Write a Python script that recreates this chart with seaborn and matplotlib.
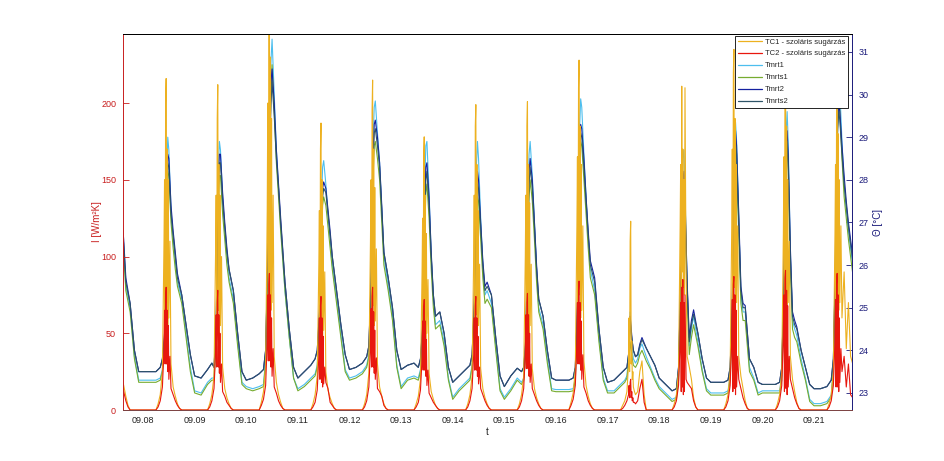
import numpy as np
import pandas as pd
import matplotlib
matplotlib.use('Agg')
import matplotlib.pyplot as plt
import matplotlib.dates as mdates
import seaborn as sns
from matplotlib.lines import Line2D

nan = np.nan

# one list per day, 2012-09-07 ... 2012-09-21
days = pd.date_range('2012-09-07', '2012-09-21', freq='D')

t_hours = [0, 3, 6, 8, 9, 10, 10.5, 11, 11.5, 12, 13, 14, 15, 16, 18, 20, 22]
tc_hours = [0, 6, 7, 8, 9, 9.75, 10, 10.25, 10.5, 10.75, 11, 11.25, 11.5,
            11.75, 12, 12.5, 13, 14, 15, 16, 17, 18]

tc1 = [
    [nan] * 16 + [28, 22, 16, 9, 3, 0],
    [0, 0, 4, 10, 25, 110, 150, 60, 200, 216, 70, 170, 55, 150, 60, 110, 30, 15, 9, 4, 1, 0],
    [0, 0, 4, 10, 22, 105, 140, 55, 190, 212, 65, 160, 50, 140, 55, 100, 28, 14, 8, 4, 1, 0],
    [0, 0, 5, 12, 28, 130, 200, 70, 250, 265, 80, 230, 65, 190, 70, 140, 35, 18, 10, 5, 1, 0],
    [0, 0, 4, 10, 22, 95, 130, 50, 170, 187, 60, 150, 48, 120, 52, 90, 25, 13, 8, 4, 1, 0],
    [0, 0, 4, 10, 24, 110, 150, 60, 195, 215, 68, 170, 55, 145, 58, 105, 30, 15, 9, 4, 1, 0],
    [0, 0, 4, 9, 20, 90, 125, 50, 165, 178, 58, 140, 45, 115, 50, 85, 24, 12, 7, 3, 1, 0],
    [0, 0, 4, 10, 22, 100, 140, 55, 185, 199, 62, 160, 50, 130, 55, 95, 27, 14, 8, 4, 1, 0],
    [0, 0, 4, 10, 22, 100, 140, 55, 185, 201, 62, 160, 50, 135, 55, 95, 27, 14, 8, 4, 1, 0],
    [0, 0, 5, 11, 26, 120, 165, 65, 210, 228, 75, 185, 60, 160, 65, 120, 32, 16, 9, 4, 1, 0],
    [0, 0, 3, 6, 12, 30, 60, 25, 110, 123, 30, 45, 20, 25, 15, 12, 10, 12, 25, 32, 10, 0],
    [0, 0, 4, 10, 25, 120, 160, 70, 211, 90, 170, 80, 150, 75, 210, 90, 35, 28, 20, 8, 2, 0],
    [0, 0, 4, 10, 25, 120, 170, 70, 220, 235, 80, 190, 65, 160, 70, 120, 35, 22, 14, 6, 1, 0],
    [0, 0, 4, 10, 25, 115, 165, 70, 215, 230, 75, 185, 65, 150, 70, 110, 35, 20, 12, 5, 1, 0],
    [0, 0, 4, 10, 25, 115, 160, 70, 200, 218, 75, 180, 65, 150, 70, 120, 60, 90, 40, 70, 35, 30],
]

tc2 = [
    [nan] * 16 + [22, 18, 12, 6, 2, 0],
    [0, 0, 2, 6, 15, 40, 65, 30, 72, 80, 30, 65, 25, 55, 20, 35, 14, 10, 6, 3, 1, 0],
    [0, 0, 2, 6, 14, 38, 62, 28, 70, 78, 28, 62, 24, 50, 18, 30, 12, 9, 5, 3, 1, 0],
    [0, 0, 3, 7, 16, 45, 75, 32, 82, 89, 32, 75, 28, 60, 22, 40, 15, 11, 6, 3, 1, 0],
    [0, 0, 2, 5, 13, 35, 60, 20, 68, 74, 18, 60, 15, 48, 17, 28, 18, 14, 5, 3, 1, 0],
    [0, 0, 2, 6, 15, 40, 66, 28, 74, 80, 28, 64, 24, 52, 20, 34, 14, 12, 9, 3, 1, 0],
    [0, 0, 2, 5, 13, 34, 58, 26, 66, 72, 26, 58, 22, 46, 16, 26, 11, 8, 5, 3, 1, 0],
    [0, 0, 2, 6, 14, 36, 60, 26, 68, 74, 26, 60, 22, 48, 17, 28, 14, 10, 6, 3, 1, 0],
    [0, 0, 2, 6, 14, 37, 62, 27, 70, 76, 27, 62, 22, 50, 18, 30, 14, 10, 6, 3, 1, 0],
    [0, 0, 3, 7, 16, 44, 70, 30, 78, 84, 30, 70, 26, 58, 20, 36, 15, 11, 6, 3, 1, 0],
    [0, 0, 1, 3, 6, 10, 16, 8, 18, 20, 8, 12, 6, 8, 5, 5, 4, 6, 14, 20, 5, 0],
    [0, 0, 2, 6, 16, 45, 70, 12, 80, 15, 85, 10, 70, 12, 75, 20, 18, 16, 14, 6, 2, 0],
    [0, 0, 2, 6, 16, 45, 72, 12, 82, 87, 14, 75, 10, 65, 15, 35, 20, 14, 8, 4, 1, 0],
    [0, 0, 2, 6, 16, 48, 75, 12, 86, 91, 14, 78, 10, 68, 15, 35, 20, 14, 8, 4, 1, 0],
    [0, 0, 2, 6, 16, 45, 72, 15, 82, 89, 15, 75, 12, 60, 18, 40, 25, 35, 15, 30, 10, 8],
]

tmrt1 = [
    [nan] * 11 + [27.0, 26.4, 25.5, 25.0, 23.85, 23.3],
    [23.3, 23.3, 23.3, 23.35, 23.55, 24.2, 26.3, 28.2, 29.0, 28.7, 27.3, 26.6, 26.1, 25.6, 25.2, 24.4, 23.6],
    [23.05, 23.0, 23.25, 23.35, 23.35, 24.5, 26.6, 28.2, 28.9, 28.7, 27.6, 26.8, 26.2, 25.7, 25.2, 24.2, 23.25],
    [23.15, 23.1, 23.15, 23.2, 23.8, 26.3, 28.3, 29.8, 30.8, 31.3, 30.0, 28.7, 27.8, 26.9, 25.4, 24.3, 23.35],
    [23.1, 23.2, 23.35, 23.45, 23.65, 24.8, 26.2, 27.5, 28.3, 28.45, 27.9, 27.2, 26.6, 26.0, 25.2, 24.4, 23.55],
    [23.35, 23.4, 23.5, 23.65, 23.9, 25.6, 27.5, 29.0, 29.7, 29.85, 29.1, 28.4, 27.3, 26.2, 25.5, 24.8, 23.65],
    [23.15, 23.35, 23.4, 23.35, 23.55, 24.5, 26.3, 27.9, 28.8, 28.9, 27.7, 26.2, 25.2, 24.6, 24.7, 24.2, 23.35],
    [22.9, 23.1, 23.25, 23.35, 23.65, 25.2, 27.0, 28.3, 28.9, 28.5, 27.1, 26.0, 25.3, 25.4, 25.1, 24.1, 23.1],
    [22.9, 23.1, 23.35, 23.25, 23.35, 24.3, 26.1, 27.6, 28.6, 28.9, 28.1, 27.0, 25.9, 25.0, 24.6, 23.8, 23.1],
    [23.08, 23.08, 23.08, 23.1, 23.35, 25.2, 27.4, 29.2, 29.9, 29.7, 28.6, 27.6, 26.7, 25.9, 25.4, 24.3, 23.35],
    [23.05, 23.05, 23.2, 23.3, 23.4, 24.0, 24.9, 24.3, 24.0, 23.8, 23.7, 23.8, 24.05, 24.15, 23.85, 23.6, 23.35],
    [23.15, 23.0, 22.85, 22.9, 23.4, 25.6, 27.3, 28.5, 28.7, 27.8, 25.5, 24.1, 24.5, 24.8, 24.2, 23.55, 23.1],
    [23.0, 23.0, 23.0, 23.05, 23.4, 25.2, 27.2, 28.8, 29.35, 28.9, 27.1, 25.3, 24.9, 24.9, 23.6, 23.35, 23.0],
    [23.05, 23.05, 23.05, 23.05, 23.4, 25.7, 27.6, 29.1, 29.6, 28.9, 26.3, 24.7, 24.5, 24.35, 23.8, 23.35, 22.85],
    [22.75, 22.75, 22.8, 22.95, 23.6, 26.5, 28.6, 29.9, 30.5, 30.1, 28.9, 27.9, 27.3, 26.8, 26.0, nan, nan],
]

tmrts1 = [
    [nan] * 11 + [26.9, 26.3, 25.4, 24.9, 23.8, 23.25],
    [23.25, 23.25, 23.25, 23.3, 23.5, 24.0, 25.8, 27.4, 28.2, 28.1, 27.0, 26.4, 25.9, 25.5, 25.1, 24.3, 23.5],
    [23.0, 22.95, 23.2, 23.3, 23.3, 24.2, 26.0, 27.5, 28.1, 28.1, 27.2, 26.6, 26.0, 25.6, 25.1, 24.1, 23.2],
    [23.1, 23.05, 23.1, 23.15, 23.7, 25.8, 27.5, 29.0, 30.0, 30.7, 29.6, 28.4, 27.6, 26.8, 25.4, 24.3, 23.35],
    [23.05, 23.15, 23.3, 23.4, 23.6, 24.5, 25.6, 26.7, 27.4, 27.6, 27.4, 26.9, 26.4, 25.9, 25.1, 24.3, 23.5],
    [23.3, 23.35, 23.45, 23.6, 23.85, 25.2, 26.7, 28.1, 28.8, 28.9, 28.5, 28.0, 27.0, 26.0, 25.4, 24.7, 23.6],
    [23.1, 23.3, 23.35, 23.3, 23.5, 24.2, 25.5, 26.8, 27.7, 27.9, 27.1, 25.9, 25.0, 24.5, 24.6, 24.1, 23.3],
    [22.85, 23.05, 23.2, 23.3, 23.6, 24.7, 26.0, 27.1, 27.6, 27.5, 26.6, 25.7, 25.1, 25.2, 25.0, 24.0, 23.05],
    [22.85, 23.05, 23.3, 23.2, 23.3, 23.9, 25.3, 26.7, 27.6, 28.0, 27.5, 26.6, 25.6, 24.9, 24.5, 23.7, 23.05],
    [23.03, 23.03, 23.03, 23.05, 23.3, 24.7, 26.5, 28.2, 28.9, 28.8, 28.0, 27.2, 26.4, 25.7, 25.3, 24.2, 23.3],
    [23.0, 23.0, 23.15, 23.25, 23.35, 23.8, 24.2, 24.0, 23.8, 23.65, 23.6, 23.7, 23.9, 24.0, 23.75, 23.55, 23.3],
    [23.1, 22.95, 22.8, 22.85, 23.3, 25.2, 26.6, 27.8, 28.1, 27.3, 25.2, 23.9, 24.3, 24.6, 24.1, 23.5, 23.05],
    [22.95, 22.95, 22.95, 23.0, 23.3, 24.7, 26.5, 28.1, 28.6, 28.3, 26.7, 25.1, 24.7, 24.7, 23.5, 23.3, 22.95],
    [23.0, 23.0, 23.0, 23.0, 23.3, 25.2, 26.9, 28.3, 28.7, 28.2, 25.9, 24.5, 24.3, 24.2, 23.7, 23.3, 22.8],
    [22.7, 22.7, 22.75, 22.9, 23.5, 25.8, 27.8, 29.3, 29.9, 29.6, 28.5, 27.6, 27.1, 26.6, 25.8, nan, nan],
]

tmrt2 = [
    [nan] * 11 + [27.2, 26.6, 25.7, 25.1, 24.0, 23.5],
    [23.5, 23.5, 23.5, 23.6, 23.8, 24.4, 26.2, 27.9, 28.6, 28.5, 27.4, 26.8, 26.3, 25.8, 25.3, 24.6, 23.9],
    [23.4, 23.35, 23.55, 23.7, 23.6, 24.6, 26.5, 28.0, 28.6, 28.6, 27.7, 27.0, 26.4, 25.9, 25.4, 24.4, 23.5],
    [23.3, 23.35, 23.45, 23.55, 24.0, 26.2, 27.9, 29.3, 30.3, 30.6, 29.8, 28.7, 27.9, 27.1, 25.6, 24.5, 23.6],
    [23.35, 23.5, 23.65, 23.8, 24.0, 24.9, 26.0, 27.1, 27.8, 27.95, 27.8, 27.3, 26.8, 26.2, 25.4, 24.6, 23.9],
    [23.55, 23.6, 23.7, 23.85, 24.1, 25.6, 27.3, 28.7, 29.3, 29.4, 29.0, 28.4, 27.4, 26.3, 25.7, 25.0, 24.0],
    [23.55, 23.65, 23.7, 23.6, 23.8, 24.6, 26.0, 27.4, 28.3, 28.4, 27.6, 26.3, 25.3, 24.8, 24.9, 24.4, 23.6],
    [23.25, 23.4, 23.55, 23.65, 23.9, 25.1, 26.5, 27.7, 28.2, 28.0, 27.0, 26.1, 25.5, 25.6, 25.3, 24.3, 23.4],
    [23.15, 23.4, 23.58, 23.5, 23.6, 24.3, 25.8, 27.3, 28.2, 28.5, 28.0, 27.0, 26.0, 25.2, 24.8, 24.0, 23.35],
    [23.3, 23.3, 23.3, 23.35, 23.6, 25.1, 27.1, 28.8, 29.3, 29.2, 28.5, 27.6, 26.8, 26.1, 25.7, 24.5, 23.6],
    [23.25, 23.3, 23.45, 23.55, 23.6, 24.0, 24.8, 24.5, 24.2, 24.0, 23.85, 23.9, 24.15, 24.3, 24.05, 23.85, 23.65],
    [23.35, 23.2, 23.05, 23.1, 23.6, 25.6, 27.0, 28.0, 28.2, 27.6, 25.6, 24.3, 24.7, 24.95, 24.4, 23.8, 23.35],
    [23.25, 23.25, 23.25, 23.3, 23.6, 25.1, 27.0, 28.7, 29.15, 28.8, 27.2, 25.5, 25.1, 25.05, 23.8, 23.6, 23.25],
    [23.2, 23.2, 23.2, 23.25, 23.6, 25.6, 27.4, 28.9, 29.15, 28.6, 26.4, 24.9, 24.7, 24.55, 24.0, 23.6, 23.2],
    [23.1, 23.1, 23.15, 23.3, 23.8, 26.1, 28.1, 29.4, 29.8, 29.6, 28.8, 28.1, 27.5, 27.0, 26.2, nan, nan],
]

tmrts2 = [
    [nan] * 11 + [27.0, 26.5, 25.6, 25.1, 24.0, 23.5],
    [23.5, 23.5, 23.5, 23.6, 23.8, 24.3, 26.0, 27.6, 28.4, 28.3, 27.2, 26.7, 26.2, 25.7, 25.3, 24.6, 23.9],
    [23.4, 23.35, 23.55, 23.7, 23.6, 24.5, 26.3, 27.8, 28.4, 28.4, 27.5, 26.9, 26.3, 25.9, 25.4, 24.4, 23.5],
    [23.3, 23.35, 23.45, 23.55, 24.0, 26.0, 27.6, 28.9, 29.8, 30.3, 29.5, 28.5, 27.8, 27.0, 25.6, 24.5, 23.6],
    [23.35, 23.5, 23.65, 23.8, 24.0, 24.8, 25.8, 26.9, 27.6, 27.8, 27.7, 27.2, 26.7, 26.2, 25.4, 24.6, 23.9],
    [23.55, 23.6, 23.7, 23.85, 24.1, 25.5, 27.0, 28.4, 29.1, 29.2, 28.8, 28.3, 27.3, 26.3, 25.7, 25.0, 24.0],
    [23.55, 23.65, 23.7, 23.6, 23.8, 24.5, 25.8, 27.1, 28.0, 28.2, 27.4, 26.2, 25.3, 24.8, 24.9, 24.4, 23.6],
    [23.25, 23.4, 23.55, 23.65, 23.9, 25.0, 26.3, 27.4, 27.9, 27.8, 26.9, 26.0, 25.4, 25.5, 25.3, 24.3, 23.4],
    [23.15, 23.4, 23.58, 23.5, 23.6, 24.2, 25.6, 27.0, 27.9, 28.3, 27.8, 26.9, 25.9, 25.2, 24.8, 24.0, 23.35],
    [23.3, 23.3, 23.3, 23.35, 23.6, 25.0, 26.8, 28.5, 29.1, 29.0, 28.3, 27.5, 26.7, 26.0, 25.6, 24.5, 23.6],
    [23.25, 23.3, 23.45, 23.55, 23.6, 24.0, 24.7, 24.4, 24.2, 24.0, 23.85, 23.9, 24.1, 24.25, 24.05, 23.85, 23.65],
    [23.35, 23.2, 23.05, 23.1, 23.6, 25.5, 26.8, 27.8, 28.0, 27.4, 25.5, 24.2, 24.6, 24.85, 24.4, 23.8, 23.35],
    [23.25, 23.25, 23.25, 23.3, 23.6, 25.0, 26.8, 28.4, 28.9, 28.6, 27.0, 25.4, 25.0, 25.0, 23.8, 23.6, 23.25],
    [23.2, 23.2, 23.2, 23.25, 23.6, 25.5, 27.2, 28.6, 28.9, 28.4, 26.2, 24.8, 24.6, 24.5, 24.0, 23.6, 23.2],
    [23.1, 23.1, 23.15, 23.3, 23.8, 26.0, 27.9, 29.2, 29.6, 29.4, 28.6, 27.9, 27.4, 26.9, 26.1, nan, nan],
]

labels = ['TC1 - szoláris sugárzás', 'TC2 - szoláris sugárzás',
          'Tmrt1', 'Tmrts1', 'Tmrt2', 'Tmrts2']
colors = ['#EDB120', '#E8170E', '#4DBEEE', '#77AC30', '#1420A0', '#2E5468']


def to_frame(hours, per_day):
    rows = []
    for d, vals in zip(days, per_day):
        for h, v in zip(hours, vals):
            rows.append((d + pd.Timedelta(hours=h), v))
    return pd.DataFrame(rows, columns=['t', 'v']).dropna()


sns.set_style('white')
plt.rcParams['font.family'] = ['Liberation Sans', 'DejaVu Sans']

fig = plt.figure(figsize=(9.45, 4.61), dpi=100)
ax = fig.add_axes([0.1302, 0.1106, 0.7714, 0.8156])
ax2 = ax.twinx()
# irradiation curves drawn above the temperatures
ax.set_zorder(ax2.get_zorder() + 1)
ax.patch.set_visible(False)

lw = 0.8
for vals, c in zip([tc1, tc2], colors[:2]):
    sns.lineplot(data=to_frame(tc_hours, vals), x='t', y='v', ax=ax, color=c,
                 lw=lw, estimator=None, errorbar=None, legend=False)
for vals, c in zip([tmrt1, tmrts1, tmrt2, tmrts2], colors[2:]):
    sns.lineplot(data=to_frame(t_hours, vals), x='t', y='v', ax=ax2, color=c,
                 lw=lw, estimator=None, errorbar=None, legend=False)

red = '#C81E1E'
navy = '#1A1A7A'

ax.set_xlim(pd.Timestamp('2012-09-07 14:42'), pd.Timestamp('2012-09-21 17:40'))
ax.set_ylim(0, 245)
ax2.set_ylim(22.6, 31.42)
ax.set_yticks([0, 50, 100, 150, 200])
ax2.set_yticks(range(23, 32))

ax.xaxis.set_major_locator(mdates.DayLocator())
ax.xaxis.set_major_formatter(mdates.DateFormatter('%m.%d'))

ax.set_xlabel('t', fontsize=7, color='#222222', labelpad=2)
ax.set_ylabel('I [W/m²K]', fontsize=7, color=red, labelpad=-0.5)
ax2.set_ylabel('Θ [°C]', fontsize=7, color=navy, labelpad=3)

ax.tick_params(axis='y', direction='in', length=4, width=0.6, colors=red, labelsize=6.5, pad=5)
ax.tick_params(axis='x', direction='in', length=4, width=0.6, colors='#6a3a3a',
               labelcolor='#222222', labelsize=6.5, pad=4)
ax2.tick_params(axis='y', direction='in', length=4, width=0.6, colors=navy, labelsize=6.5, pad=5)

for s in ax.spines.values():
    s.set_linewidth(0.7)
for s in ax2.spines.values():
    s.set_linewidth(0.7)
ax.spines['left'].set_color(red)
ax.spines['bottom'].set_color('#7a4040')
ax.spines['right'].set_visible(False)
ax.spines['top'].set_color('black')
ax2.spines['left'].set_visible(False)
ax2.spines['bottom'].set_visible(False)
ax2.spines['right'].set_color(navy)
ax2.spines['top'].set_color('black')

handles = [Line2D([], [], color=c, lw=0.9) for c in colors]
leg = ax.legend(handles, labels, loc='upper right', bbox_to_anchor=(0.994, 0.996),
                fontsize=5.5, frameon=True, fancybox=False, framealpha=1,
                edgecolor='black', handlelength=3.2, handletextpad=0.3,
                labelspacing=0.6, borderpad=0.35, borderaxespad=0.0)
leg.get_frame().set_linewidth(0.6)

fig.savefig('out.png', dpi=100, facecolor='white')
